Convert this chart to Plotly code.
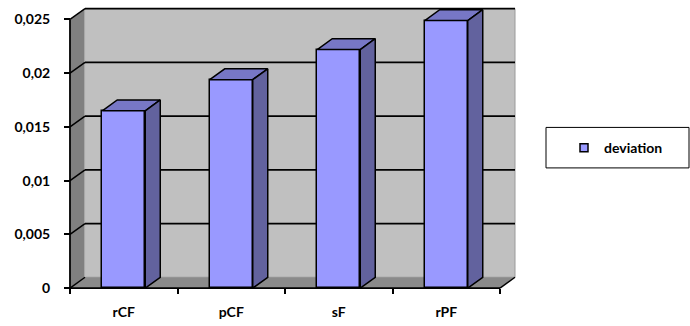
import plotly.graph_objects as go

# ---- data ----
categories = ["rCF", "pCF", "sF", "rPF"]
deviation = [0.0165, 0.0194, 0.0222, 0.0249]
y_tick_vals = [0, 0.005, 0.01, 0.015, 0.02, 0.025]
y_tick_text = ["0", "0,005", "0,01", "0,015", "0,02", "0,025"]
series_name = "deviation"

# ---- geometry / style constants ----
W, H = 690, 326
PX_PER_CAT = 107.5
X_FRONT_PX = 70.0
PY_ZERO = 291.7
PX_PER_UNIT = 10880.0
DX = 15.0 / PX_PER_CAT          # depth offset (category units)
DY = 11.0 / PX_PER_UNIT         # depth offset (value units)
BAR_W = 0.4
YMAX = y_tick_vals[-1]
n = len(categories)
XL, XR = -0.5, n - 0.5

dom_px = (66, 517)
dom_py = (6, 296)
xrange = [(dom_px[0] - X_FRONT_PX) / PX_PER_CAT - 0.5, (dom_px[1] - X_FRONT_PX) / PX_PER_CAT - 0.5]
yrange = [(PY_ZERO - dom_py[1]) / PX_PER_UNIT, (PY_ZERO - dom_py[0]) / PX_PER_UNIT]

FRONT = "#9999FF"
TOP = "#7777C6"
SIDE = "#62629E"
WALL = "#C0C0C0"
SIDEWALL = "#808080"
FLOOR = "#8A8A8A"
FONT = "Lato"

fig = go.Figure()

# front faces of bars
fig.add_trace(go.Bar(
    x=list(range(n)), y=deviation, width=BAR_W,
    marker=dict(color=FRONT, line=dict(color="black", width=1.5)),
    showlegend=False, hoverinfo="skip",
))

# top and side faces computed from the values
for i, v in enumerate(deviation):
    l, r = i - BAR_W / 2, i + BAR_W / 2
    fig.add_trace(go.Scatter(
        x=[l, r, r + DX, l + DX, l], y=[v, v, v + DY, v + DY, v],
        fill="toself", fillcolor=TOP, mode="lines",
        line=dict(color="black", width=1.5), showlegend=False, hoverinfo="skip"))
    fig.add_trace(go.Scatter(
        x=[r, r, r + DX, r + DX, r], y=[0, v, v + DY, DY, 0],
        fill="toself", fillcolor=SIDE, mode="lines",
        line=dict(color="black", width=1.5), showlegend=False, hoverinfo="skip"))

# legend entry
fig.add_trace(go.Scatter(
    x=[None], y=[None], mode="markers", name=series_name,
    marker=dict(symbol="square", size=8, color=FRONT, line=dict(color="black", width=1.5)),
))

shapes = []
# back wall
shapes.append(dict(type="rect", xref="x", yref="y", layer="below",
                   x0=XL + DX, x1=XR + DX, y0=DY, y1=YMAX + DY,
                   fillcolor=WALL, line=dict(color="#9A9A9A", width=1)))
# side wall
shapes.append(dict(type="path", xref="x", yref="y", layer="below",
                   path=f"M{XL},0 L{XL},{YMAX} L{XL+DX},{YMAX+DY} L{XL+DX},{DY} Z",
                   fillcolor=SIDEWALL, line=dict(color="#D0D0D0", width=1)))
# floor
shapes.append(dict(type="path", xref="x", yref="y", layer="below",
                   path=f"M{XL},0 L{XR},0 L{XR+DX},{DY} L{XL+DX},{DY} Z",
                   fillcolor=FLOOR, line=dict(width=0)))
# gridlines on back wall and side wall
for t in y_tick_vals[1:]:
    shapes.append(dict(type="line", xref="x", yref="y", layer="below",
                       x0=XL + DX, x1=XR + DX, y0=t + DY, y1=t + DY,
                       line=dict(color="black", width=1.8)))
for t in y_tick_vals:
    shapes.append(dict(type="line", xref="x", yref="y", layer="below",
                       x0=XL, x1=XL + DX, y0=t, y1=t + DY,
                       line=dict(color="black", width=1.5)))
# floor right edge
shapes.append(dict(type="line", xref="x", yref="y", layer="below",
                   x0=XR, x1=XR + DX, y0=0, y1=DY, line=dict(color="black", width=1.5)))
# front axis lines
shapes.append(dict(type="line", xref="x", yref="y", x0=XL, x1=XL, y0=0, y1=YMAX,
                   line=dict(color="black", width=1.8)))
shapes.append(dict(type="line", xref="x", yref="y", x0=XL, x1=XR, y0=0, y1=0,
                   line=dict(color="black", width=1.8)))
# legend box
shapes.append(dict(type="rect", xref="paper", yref="paper",
                   x0=546 / W, x1=689 / W, y0=1 - 170 / H, y1=1 - 129 / H,
                   line=dict(color="black", width=1), fillcolor="white"))

fig.update_layout(
    width=W, height=H, margin=dict(l=0, r=0, t=0, b=0),
    paper_bgcolor="white", plot_bgcolor="rgba(0,0,0,0)",
    font=dict(family=FONT, size=14, color="black"),
    shapes=shapes, bargap=0,
    xaxis=dict(domain=[dom_px[0] / W, dom_px[1] / W], range=xrange,
               anchor="free", position=1 - PY_ZERO / H,
               tickmode="array", tickvals=list(range(n)), ticktext=categories,
               ticks="", showgrid=False, zeroline=False, showline=False,
               tickfont=dict(family=FONT, size=14, color="black", weight="bold"),
               ticklabelstandoff=14,
               minor=dict(tickmode="array", tickvals=[i - 0.5 for i in range(n + 1)],
                          ticks="outside", ticklen=5, tickwidth=1.5, tickcolor="black",
                          showgrid=False)),
    yaxis=dict(domain=[1 - dom_py[1] / H, 1 - dom_py[0] / H], range=yrange,
               anchor="free", position=X_FRONT_PX / W,
               tickmode="array", tickvals=y_tick_vals, ticktext=y_tick_text,
               ticks="outside", ticklen=6, tickwidth=1.5, tickcolor="black",
               showgrid=False, zeroline=False, showline=False,
               tickfont=dict(family=FONT, size=14, color="black", weight="bold"),
               ticklabelstandoff=11),
    legend=dict(x=564 / W, xanchor="left", y=1 - 150 / H, yanchor="middle",
                bgcolor="rgba(0,0,0,0)", borderwidth=0,
                font=dict(family=FONT, size=14, color="black", weight="bold")),
)

fig.write_html("out.html")
